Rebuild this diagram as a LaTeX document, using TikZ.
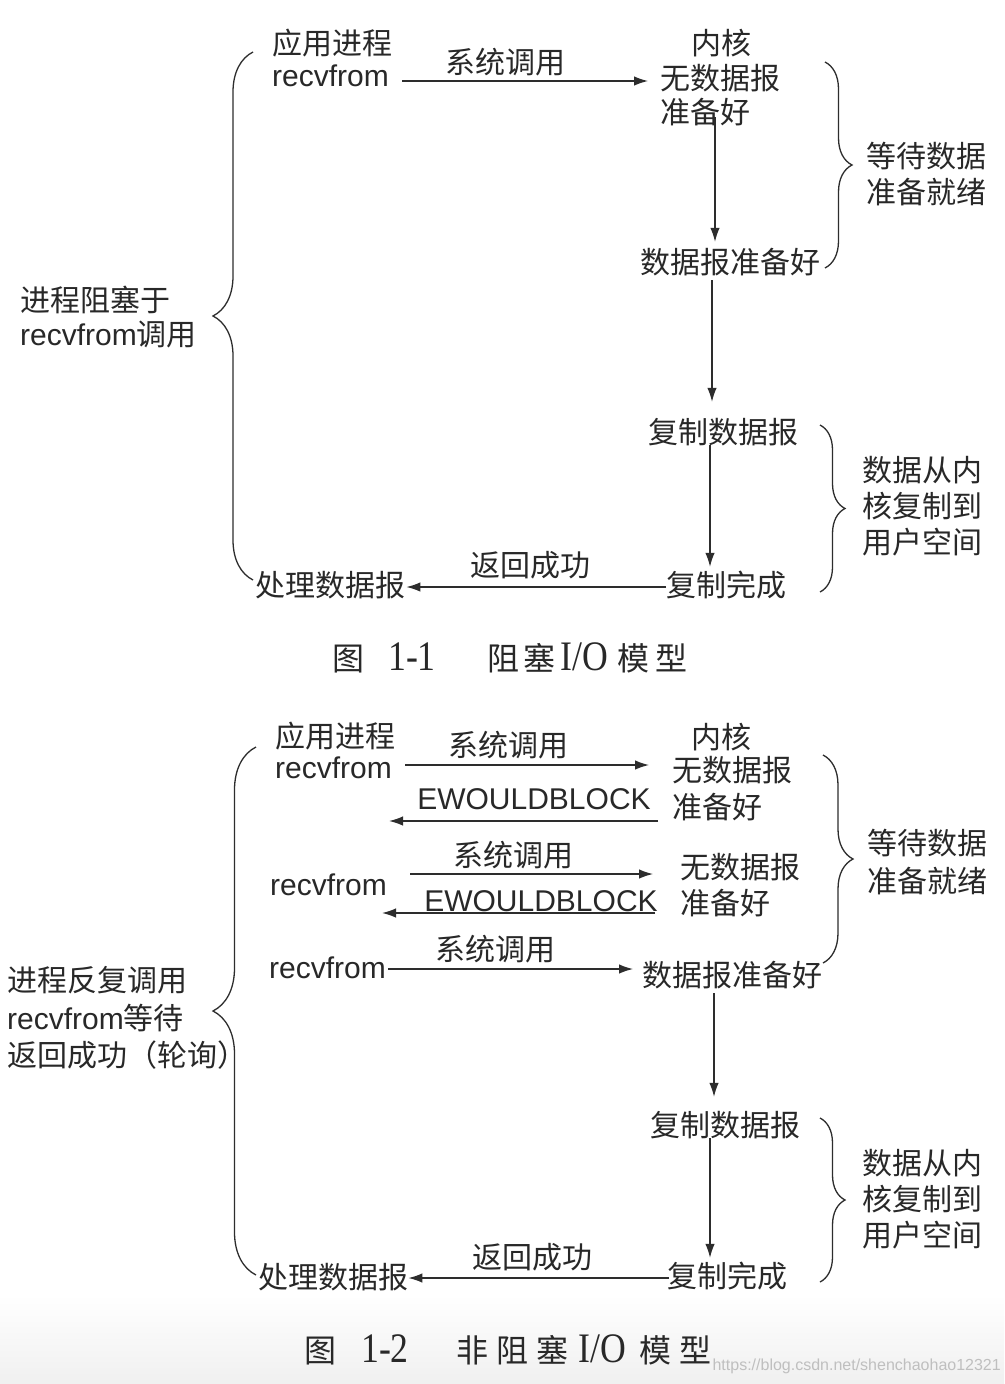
\documentclass[tikz,border=0pt]{standalone}
\usepackage{fontspec}
\setmainfont{Liberation Sans}
\newfontfamily\cjk{Noto Sans CJK SC}
\newfontfamily\sercap{Liberation Serif}[FakeStretch=0.85]
\usetikzlibrary{arrows.meta,decorations.pathreplacing,calc}
\definecolor{ink}{RGB}{40,40,40}
\definecolor{linec}{RGB}{45,45,45}
\newcommand{\capnum}[1]{{\sercap\fontsize{42}{44}\selectfont #1}}
\begin{document}
\begin{tikzpicture}[x=1pt,y=-1pt,
  every node/.style={inner sep=0pt, text=ink},
  zh/.style={font=\cjk\fontsize{30}{36}\selectfont, text height=26pt, text depth=4pt},
  en/.style={font=\fontsize{30}{36}\selectfont, text height=26pt, text depth=4pt},
  mix/.style={font=\fontsize{30}{36}\selectfont, text height=26pt, text depth=4pt},
  capt/.style={font=\cjk\fontsize{32}{38}\selectfont},
  arr/.style={draw=linec, line width=1.3pt, -{Latex[length=14pt,width=9.5pt]}},
  brc/.style={draw=linec, line width=1.3pt, decorate, decoration={brace, amplitude=#1}},
]
\fill[white] (0,0) rectangle (1004,1384);
\shade[top color=white, bottom color=gray!12] (0,1295) rectangle (1004,1384);
\useasboundingbox (0,0) rectangle (1004,1384);

% ---------------- Figure 1-1 ----------------
\node[zh, anchor=west] (A1) at (272,43) {应用进程};
\node[en, anchor=west] (R1) at (272,75) {recvfrom};
\node[zh] (S1) at (505,62) {系统调用};
\node[zh] (K1) at (721,43) {内核};
\node[zh, anchor=west] (N1a) at (660,78) {无数据报};
\node[zh, anchor=west] (N1b) at (660,112) {准备好};
\node[zh, anchor=west] (D1) at (640,262) {数据报准备好};
\node[zh, anchor=west] (W1a) at (866,156) {等待数据};
\node[zh, anchor=west] (W1b) at (866,192) {准备就绪};
\node[zh, anchor=west] (C1) at (648,432) {复制数据报};
\node[zh, anchor=west] (F1) at (666,585) {复制完成};
\node[zh, anchor=west] (U1a) at (862,470) {数据从内};
\node[zh, anchor=west] (U1b) at (862,506) {核复制到};
\node[zh, anchor=west] (U1c) at (862,542) {用户空间};
\node[zh, anchor=west] (H1) at (255,585) {处理数据报};
\node[zh] (B1) at (530,565) {返回成功};
\node[zh, anchor=west] (L1a) at (20,300) {进程阻塞于};
\node[mix, anchor=west] (L1b) at (20,334) {recvfrom{\cjk 调用}};
\node[capt, anchor=west] (T1) at (332,658) {图\hspace{24pt}\capnum{1-1}\hspace{52pt}阻\hspace{4pt}塞\hspace{5pt}\capnum{I/O}\hspace{9pt}模\hspace{6pt}型};

\coordinate (h1) at (0,81);
\coordinate (h2) at (0,587);
\coordinate (v1) at (715,0);
\coordinate (v2) at (712,0);
\coordinate (v3) at (710,0);
\draw[arr, shorten <=13pt, shorten >=12pt] (R1.east |- h1) -- (N1a.west |- h1);
\draw[arr, shorten <=5pt, shorten >=5pt] (N1b.center -| v1) -- (D1.north -| v1);
\draw[arr, shorten <=3pt, shorten >=15pt] (D1.south -| v2) -- (C1.north -| v2);
\draw[arr, shorten <=-2pt, shorten >=3pt] (C1.south -| v3) -- (F1.north -| v3);
\draw[arr, shorten >=1pt] (F1.west |- h2) -- (H1.east |- h2);

\draw[brc=27pt] (825,62) -- (825,268);
\draw[brc=25pt] (820,425) -- (820,592);
\draw[brc=40pt] (253,580) -- (253,52);

% ---------------- Figure 1-2 ----------------
\node[zh, anchor=west] (A2) at (275,736) {应用进程};
\node[en, anchor=west] (R2a) at (275,767) {recvfrom};
\node[zh] (S2a) at (508,745) {系统调用};
\node[zh] (K2) at (721,737) {内核};
\node[zh, anchor=west] (N2a) at (672,770) {无数据报};
\node[zh, anchor=west] (N2b) at (672,807) {准备好};
\node[en] (E2a) at (534,798) {EWOULDBLOCK};
\node[zh] (S2b) at (513,855) {系统调用};
\node[en, anchor=west] (R2b) at (270,884) {recvfrom};
\node[en] (E2b) at (541,900) {EWOULDBLOCK};
\node[zh, anchor=west] (N2c) at (680,867) {无数据报};
\node[zh, anchor=west] (N2d) at (680,903) {准备好};
\node[zh] (S2c) at (495,949) {系统调用};
\node[en, anchor=west] (R2c) at (269,967) {recvfrom};
\node[zh, anchor=west] (D2) at (642,975) {数据报准备好};
\node[zh, anchor=west] (W2a) at (867,843) {等待数据};
\node[zh, anchor=west] (W2b) at (867,881) {准备就绪};
\node[zh, anchor=west] (C2) at (650,1125) {复制数据报};
\node[zh, anchor=west] (F2) at (667,1276) {复制完成};
\node[zh, anchor=west] (U2a) at (862,1163) {数据从内};
\node[zh, anchor=west] (U2b) at (862,1199) {核复制到};
\node[zh, anchor=west] (U2c) at (862,1235) {用户空间};
\node[zh, anchor=west] (H2) at (258,1277) {处理数据报};
\node[zh] (B2) at (532,1257) {返回成功};
\node[zh, anchor=west] (L2a) at (7,980) {进程反复调用};
\node[mix, anchor=west] (L2b) at (7,1018) {recvfrom{\cjk 等待}};
\node[zh, anchor=west] (L2c) at (7,1055) {返回成功（轮询）};
\node[capt, anchor=west] (T2) at (304,1350) {图\hspace{25pt}\capnum{1-2}\hspace{48pt}非\hspace{8pt}阻\hspace{8pt}塞\hspace{10pt}\capnum{I/O}\hspace{13pt}模\hspace{8pt}型};
\node[font=\fontsize{16}{18}\selectfont, text=gray!50, anchor=east] (WM) at (1001,1366) {https://blog.csdn.net/shenchaohao12321};

\coordinate (h3) at (0,765);
\coordinate (h4) at (0,821);
\coordinate (h5) at (0,874);
\coordinate (h6) at (0,913);
\coordinate (h7) at (0,969);
\coordinate (h8) at (0,1278);
\coordinate (v4) at (714,0);
\coordinate (v5) at (710,0);
\draw[arr, shorten <=13pt, shorten >=23pt] (R2a.east |- h3) -- (N2a.west |- h3);
\draw[arr, shorten <=14pt, shorten >=-3pt] (N2b.west |- h4) -- (R2a.east |- h4);
\draw[arr, shorten <=23pt, shorten >=27pt] (R2b.east |- h5) -- (N2c.west |- h5);
\draw[arr, shorten <=25pt, shorten >=-5pt] (N2d.west |- h6) -- (R2b.east |- h6);
\draw[arr, shorten <=2pt, shorten >=9pt] (R2c.east |- h7) -- (D2.west |- h7);
\draw[arr, shorten <=3pt, shorten >=13pt] (D2.south -| v4) -- (C2.north -| v4);
\draw[arr, shorten <=-2pt, shorten >=3pt] (C2.south -| v5) -- (F2.north -| v5);
\draw[arr, shorten <=-2pt] (F2.west |- h8) -- (H2.east |- h8);

\draw[brc=30pt] (823,755) -- (823,963);
\draw[brc=25pt] (820,1118) -- (820,1282);
\draw[brc=43pt] (256,1275) -- (256,747);
\end{tikzpicture}
\end{document}
